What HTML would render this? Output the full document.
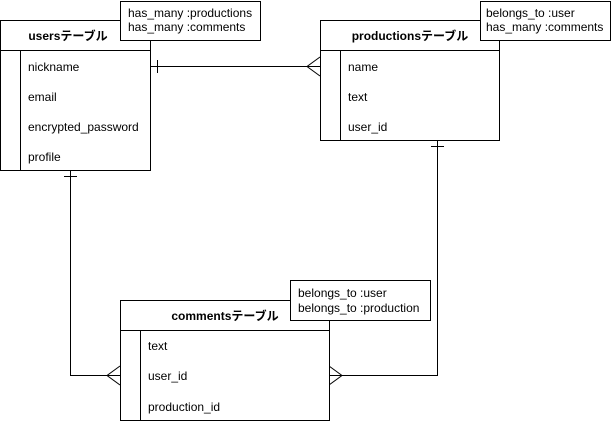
<!DOCTYPE html>
<html><head><meta charset="utf-8"><style>
html,body{margin:0;padding:0;background:#fff;}
svg{display:block;font-family:"Liberation Sans","Noto Sans CJK JP",sans-serif;}
</style></head><body>
<svg width="611" height="421" viewBox="0 0 611 421" xmlns="http://www.w3.org/2000/svg">
<g fill="none" stroke="#000" stroke-width="1">
<!-- connectors -->
<path d="M150.5 66.5 H320"/>
<path d="M157.5 60 V73"/>
<path d="M320 57 L307 66.5 L320 76"/>
<path d="M70.5 170 V375.5 H120"/>
<path d="M64 176.5 H77"/>
<path d="M120 366 L107 375.5 L120 385"/>
<path d="M437.5 140 V375.5 H329"/>
<path d="M431 146.5 H444"/>
<path d="M329 366 L342 375.5 L329 385"/>
<!-- users -->
<rect x="0.5" y="20.5" width="150" height="150" fill="#fff"/>
<path d="M0.5 50.5 H150.5 M20.5 50.5 V170.5"/>
<!-- productions -->
<rect x="320.5" y="20.5" width="179" height="120" fill="#fff"/>
<path d="M320.5 50.5 H499.5 M340.5 50.5 V140.5"/>
<!-- comments -->
<rect x="120.5" y="300.5" width="209" height="120" fill="#fff"/>
<path d="M120.5 330.5 H329.5 M140.5 330.5 V420.5"/>
<!-- notes -->
<rect x="120.5" y="1.5" width="140" height="39" fill="#fff"/>
<rect x="480.5" y="1.5" width="130" height="39" fill="#fff"/>
<rect x="290.5" y="280.5" width="140" height="40" fill="#fff"/>
</g>
<g font-size="12" fill="#000">
<text x="68" y="40" font-weight="bold" text-anchor="middle">usersテーブル</text>
<text x="28" y="71">nickname</text>
<text x="28" y="101">email</text>
<text x="28" y="131">encrypted_password</text>
<text x="28" y="161">profile</text>
<text x="410" y="40" font-weight="bold" text-anchor="middle">productionsテーブル</text>
<text x="348" y="71">name</text>
<text x="348" y="101">text</text>
<text x="348" y="131">user_id</text>
<text x="225" y="320" font-weight="bold" text-anchor="middle">commentsテーブル</text>
<text x="148" y="350">text</text>
<text x="148" y="380">user_id</text>
<text x="148" y="411">production_id</text>
<text x="128" y="17">has_many :productions</text>
<text x="128" y="31">has_many :comments</text>
<text x="486" y="17">belongs_to :user</text>
<text x="486" y="31">has_many :comments</text>
<text x="298" y="297">belongs_to :user</text>
<text x="298" y="312">belongs_to :production</text>
</g>
</svg>
</body></html>
